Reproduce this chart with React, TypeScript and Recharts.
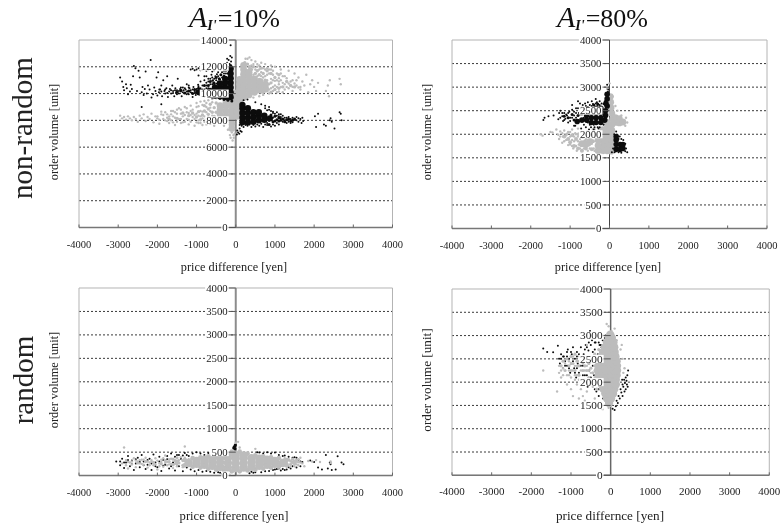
import React from "react";
import { ScatterChart, Scatter, XAxis, YAxis, CartesianGrid, ReferenceLine, ReferenceArea } from "recharts";

type P = [number, number];
const priceTicks = [-4000, -3000, -2000, -1000, 0, 1000, 2000, 3000, 4000];
const volumeTicksWide = [0, 2000, 4000, 6000, 8000, 10000, 12000, 14000];
const volumeTicks = [0, 500, 1000, 1500, 2000, 2500, 3000, 3500, 4000];

// A: non-random, 10%
const aBlackDots: P[] = [[-2950,11200],[-2900,10900],[-2870,10500],[-2850,10250],[-2800,10700],[-2780,10400],[-2750,9950],[-2700,10150],[-2680,10650],[-2650,10350],[-2620,11300],[-2600,12050],[-2560,11900],[-2520,10200],[-2480,11700],[-2450,11200],[-2400,10100],[-2380,10500],[-2350,9900],[-2320,10350],[-2300,11650],[-2270,10000],[-2240,10600],[-2200,10300],[-2170,12500],[-2150,9700],[-2110,9950],[-2080,10450],[-2050,10200],[-2020,11200],[-2000,9850],[-1980,11600],[-1960,10100],[-1930,10300],[-1900,10600],[-1880,9800],[-1850,11000],[-1820,10200],[-1800,10000],[-1770,10400],[-1750,11300],[-1730,9750],[-1700,10150],[-1680,10350],[-1650,10000],[-1620,10600],[-1600,10200],[-1570,9800],[-1540,10400],[-1520,10100],[-1500,10250],[-1480,11100],[-1450,10000],[-1420,10350],[-1400,10150],[-1380,9800],[-1350,10450],[-1330,10250],[-1300,10050],[-1280,10300],[-1250,10700],[-1220,10150],[-1200,9950],[-1180,10400],[-1150,10250],[-1120,10050],[-1100,9750],[-1080,10500],[-1050,10200],[-1020,9900],[-1000,10350],[-1150,11800],[-1100,11850],[-1050,11750],[-1000,11800],[-950,11900],[-900,11750],[-850,11800],[-800,11850],[-750,11700],[-700,11800],[-650,11900],[-600,11650],[-550,11750],[-500,11900],[-450,11600],[-400,11800],[-350,11950],[-950,11350],[-900,10900],[-850,10600],[-800,11300],[-750,10800],[-700,11100],[-650,10700],[-620,11400],[-580,11000],[-520,11300],[-480,11450],[-300,11700],[-250,12000],[-220,12300],[-180,12500],[-140,12800],[-100,12700],[-220,12600],[-130,13600],[-960,10650],[-1200,10600],[-2400,9000],[-1900,9200],[900,8700],[950,8650],[1000,8500],[1050,8600],[1100,8300],[1150,8150],[1200,8350],[1250,8000],[1300,8200],[1350,7900],[1400,8100],[1450,7850],[1500,8050],[1550,8250],[1600,7900],[1650,8100],[1680,7800],[1100,7700],[1000,7600],[900,7550],[800,7650],[700,7500],[600,7600],[500,7550],[400,7500],[300,7600],[200,7500],[100,7400],[120,7200],[60,7100],[90,7000],[40,7250],[30,6950],[150,7150],[1700,8200],[1720,7950],[2020,8300],[2050,7500],[2100,8500],[2300,7600],[2250,7700],[2400,8000],[2420,8150],[2450,7900],[2520,7400],[2650,8600],[2700,8000],[2680,8500],[850,9000],[750,9100],[650,9200],[500,9350],[300,9550],[200,9500],[800,7800],[1150,8450],[-1950,10300],[-1900,10150],[-1800,10300],[-1750,10050],[-1650,10250],[-1600,10050],[-1550,10250],[-1500,9950],[-1450,10200],[-1400,10450],[-1350,10100],[-1300,10400],[-1250,10150],[-1250,9950],[-1200,10450],[-1150,10100],[-1100,10300],[-1050,10050],[-1000,10200],[-950,10100],[-950,10550],[-900,10400],[-900,10100],[-850,10300],[-850,9900],[-800,10300],[-800,9800],[-800,11000],[-750,10400],[-750,10600],[-750,11300],[-700,10400],[-700,9750],[-700,10900],[-650,11100],[-600,10700],[-600,10950],[-600,11200],[-550,10650],[-550,11100],[-500,10750],[-500,11000],[-450,10900],[-450,11300],[-400,11050],[-350,11200],[-350,11600],[-300,11500],[-250,11500],[-250,11700],[-200,11500],[-160,12200],[-120,12400],[850,8800],[800,8750],[750,8900],[950,8550],[950,8200],[1050,8350],[1100,8450],[1150,8250],[1200,7900],[1250,8200],[1300,7800],[1350,8250],[1400,7800],[1450,8200],[1550,8000],[1600,8150],[1050,7800],[950,7700],[850,7950],[750,7700],[650,7750],[550,7700],[450,7650],[350,7700],[250,7650],[150,7600],[100,7650]];
const aBlackMid: P[] = [[-1500,10100],[-1400,10250],[-1300,10050],[-1200,10200],[-1100,10000],[-1050,10300],[-1000,10100],[-950,10400],[-900,9950],[-880,10250],[-800,10600],[-750,9900],[-700,10600],[-650,10900],[-600,9750],[-560,10800],[-500,11200],[-420,11100],[-380,11400],[-300,11300],[-200,11800],[-130,12100],[-400,9650],[-300,9550],[-200,9500],[-100,9450],[900,8400],[1000,8300],[1050,8050],[1100,8200],[1150,8000],[1200,8100],[1250,7900],[1300,8050],[1350,8100],[1400,7950],[1450,8000],[1500,8100],[950,7900],[1000,7950],[1100,7950],[850,7700]];
const aBlackCore: P[] = [[-130,9750],[-130,10100],[-130,10450],[-130,10800],[-130,11150],[-130,11500],[-130,11850],[-270,9750],[-270,10100],[-270,10450],[-270,10800],[-270,11100],[-400,9800],[-400,10100],[-400,10450],[-400,10750],[-530,9850],[-530,10150],[-530,10450],[-660,9900],[-660,10200],[-800,10050],[-930,10100],[170,7850],[170,8200],[170,8550],[170,8900],[170,9150],[310,7850],[310,8200],[310,8550],[310,8900],[450,7900],[450,8250],[450,8600],[590,8000],[590,8350],[590,8600],[730,8050],[730,8350],[870,8150]];
const aGreyDots: P[] = [[-2950,8350],[-2900,8150],[-2850,8250],[-2800,8050],[-2750,8300],[-2700,8150],[-2650,8000],[-2600,8250],[-2550,8100],[-2500,7900],[-2450,8350],[-2400,8150],[-2350,8450],[-2300,7950],[-2250,8250],[-2200,8100],[-2150,8500],[-2100,7850],[-2050,8300],[-2000,8150],[-1950,7750],[-1900,8650],[-1850,8400],[-1800,8000],[-1750,8200],[-1700,7800],[-1650,8700],[-1600,8300],[-1550,7650],[-1500,8500],[-1450,8900],[-1400,8100],[-1350,7850],[-1300,9000],[-1250,8600],[-1200,7700],[-1150,9100],[-1100,8250],[-1050,7600],[-1000,9300],[-950,7800],[-900,9400],[-850,7650],[-800,9450],[-750,7700],[-700,9500],[-650,7750],[-600,9600],[-550,7600],[-500,9650],[2680,10700],[2650,11100],[2400,11000],[2350,10600],[2300,10200],[2380,9800],[2100,10800],[2050,10200],[2000,10500],[1950,11000],[1900,10700],[1850,10100],[1800,11400],[1750,10600],[1700,10900],[1650,10300],[1600,11200],[1550,10600],[1500,11500],[1450,10200],[1400,10900],[1350,11700],[1300,10500],[1250,11300],[1200,10100],[1150,11800],[1100,10900],[1050,10100],[1000,12000],[950,11700],[900,12100],[850,10000],[800,11900],[750,12200],[700,9900],[650,12300],[600,9800],[550,12000],[500,12400],[450,9700],[400,12500],[350,12700],[300,12600],[250,12600],[-100,7100],[-60,6900],[-130,6700],[-80,6500],[-30,7000],[-200,7300],[-300,7600],[-150,6900],[-50,6700],[1650,10500],[1600,10450],[1550,11000],[1500,10750],[1450,11000],[1450,10500],[1350,10400],[1350,10750],[1300,11150],[1250,10700],[1250,10300],[1200,10800],[1200,11300],[1150,10500],[1150,11000],[1150,11500],[1100,10150],[1100,10700],[1100,11150],[1050,10500],[1050,11000],[1050,11500],[1000,10600],[1000,10950],[950,10200],[950,10500],[950,11000],[950,11400],[900,10400],[900,11100],[900,11800],[850,10300],[850,10700],[850,11500],[850,11800],[800,10500],[800,11000],[800,11400],[750,10150],[750,11300],[750,11800],[700,11200],[700,11900],[650,10100],[650,11300],[650,11600],[600,11100],[600,11800],[600,12100],[550,11300],[550,12200],[500,11800],[450,11400],[450,12200],[400,12100],[350,11900],[-2000,8300],[-1950,8050],[-1900,8450],[-1850,8100],[-1800,8600],[-1750,7950],[-1750,8450],[-1700,8300],[-1650,8000],[-1650,8450],[-1600,7850],[-1600,8700],[-1550,8200],[-1550,8600],[-1500,7900],[-1500,8800],[-1450,8100],[-1400,8500],[-1400,7800],[-1400,8800],[-1350,8300],[-1300,7900],[-1300,8400],[-1250,8100],[-1250,8900],[-1200,8050],[-1200,8550],[-1150,7900],[-1150,8400],[-1150,8700],[-1100,8800],[-1050,8100],[-1050,8400],[-1000,7850],[-1000,8500],[-1000,9000],[-950,8000],[-950,8350],[-950,9050],[-900,8300],[-900,8700],[-900,7800],[-850,8150],[-850,8650],[-850,9150],[-800,7900],[-800,8300],[-750,7850],[-750,8600],[-750,9000],[-750,9300],[-700,8050],[-700,8250],[-650,7900],[-650,8700],[-650,8950],[-600,7850],[-600,8350],[-600,9350]];
const aGreyMid: P[] = [[-1700,8100],[-1500,8150],[-1350,8550],[-1200,8350],[-1100,8550],[-1000,8250],[-950,8650],[-900,8050],[-850,8400],[-800,9100],[-800,8700],[-750,8100],[-700,8450],[-700,8850],[-650,9200],[-600,8100],[-600,8600],[-550,8950],[-550,8300],[-500,9300],[-500,7950],[-500,8600],[1500,10500],[1400,10600],[1300,10900],[1200,10500],[1100,10400],[1100,11400],[1000,10300],[1000,11200],[900,10100],[900,10800],[900,11500],[800,10200],[800,11700],[750,11000],[700,10100],[700,11500],[650,11900],[600,11400],[550,11700],[500,11500],[450,12000],[400,11800],[350,12000],[300,12200],[230,12300]];
const aGreyCore: P[] = [[-100,7400],[-100,7750],[-100,8100],[-100,8450],[-100,8800],[-100,9150],[-100,9450],[-250,8000],[-250,8350],[-250,8700],[-250,9050],[-250,9350],[-400,8100],[-400,8450],[-400,8800],[-400,9100],[30,8300],[30,8650],[30,9000],[30,9350],[30,9700],[30,10050],[100,9300],[100,9650],[100,10000],[100,10350],[100,10700],[100,11050],[200,9700],[200,10050],[200,10400],[200,10750],[200,11100],[200,11450],[200,11800],[200,12100],[340,9900],[340,10250],[340,10600],[340,10950],[340,11300],[340,11600],[480,10100],[480,10450],[480,10800],[480,11100],[620,10250],[620,10600],[620,10900],[760,10400],[760,10700]];

// B: non-random, 80%
const bBlackDots: P[] = [[-1680,2300],[-1650,2350],[-1550,2380],[-1420,2400],[-1300,2320],[-1280,2450],[-1250,2500],[-1200,2380],[-1180,2280],[-1150,2450],[-1120,2330],[-1080,2400],[-1050,2250],[-1020,2480],[-1000,2350],[-950,2620],[-900,2400],[-870,2180],[-850,2550],[-800,2700],[-780,2450],[-750,2650],[-720,2120],[-700,2560],[-680,2620],[-650,2500],[-620,2650],[-600,2150],[-580,2560],[-550,2680],[-520,2100],[-500,2620],[-470,2150],[-450,2700],[-420,2640],[-400,2100],[-380,2150],[-350,2750],[-320,2680],[-280,2120],[-250,2700],[-150,2640],[-120,2700],[-60,3050],[-40,2900],[-30,2950],[60,1620],[90,1700],[120,2000],[170,2060],[200,1980],[230,1900],[260,1950],[300,1900],[350,1880],[400,1800],[420,1700],[450,1620],[400,1640],[130,1620],[230,1620],[300,1610],[-1250,2350],[-1200,2450],[-1150,2300],[-1100,2420],[-1050,2450],[-1000,2280],[-950,2350],[-950,2520],[-900,2480],[-900,2180],[-850,2350],[-850,2450],[-800,2300],[-800,2550],[-750,2420],[-750,2550],[-700,2420],[-650,2200],[-650,2350],[-600,2500],[-600,2600],[-550,2250],[-550,2580],[-500,2200],[-500,2530],[-450,2600],[-400,2200],[-400,2550],[-350,2650],[-300,2150],[-300,2620],[-250,2150],[-250,2620],[-200,2650],[-150,2200]];
const bBlackMid: P[] = [[-1150,2380],[-1050,2350],[-950,2420],[-900,2300],[-800,2400],[-720,2500],[-640,2450],[-560,2480],[-480,2550],[-400,2620],[-300,2640]];
const bBlackCore: P[] = [[-60,2850],[-60,2750],[-90,2650],[-60,2600],[-100,2500],[-100,2400],[-120,2300],[-220,2550],[-220,2450],[-220,2350],[-220,2250],[-340,2550],[-340,2450],[-340,2350],[-340,2250],[-460,2450],[-460,2350],[-460,2250],[-580,2400],[-580,2300],[-700,2300],[-820,2270],[170,1680],[170,1780],[170,1880],[270,1680],[270,1780],[340,1700],[340,1780],[170,1950]];
const bGreyDots: P[] = [[-1750,2000],[-1700,1970],[-1500,2050],[-1450,2040],[-1350,2100],[-1300,1990],[-1280,1900],[-1250,2060],[-1200,1820],[-1180,1950],[-1150,2080],[-1100,1880],[-1080,2010],[-1050,1770],[-1000,1950],[-950,2100],[-920,1700],[-900,1850],[-870,2020],[-830,1650],[-800,2120],[-780,1780],[0,3080],[-60,2960],[80,2800],[150,2600],[200,2500],[300,2400],[420,2350],[450,2250],[400,2180],[-1250,1950],[-1200,2020],[-1150,1850],[-1100,1980],[-1050,2050],[-1000,1780],[-1000,2050],[-950,1750],[-950,1880],[-900,1950],[-850,1750],[-850,2000],[-800,1850],[-800,1950],[-750,1700],[-750,1900],[-700,1750],[-700,2050],[-650,1700],[-650,1800],[-650,2000],[-600,1900],[-550,1650],[-550,1850],[-500,1700],[-500,2000],[-450,1800],[-450,2050],[-400,1700],[-400,1950],[-380,1650]];
const bGreyMid: P[] = [[-1150,1950],[-1050,1900],[-1000,1830],[-950,1980],[-900,1750],[-850,1900],[-800,1700],[-780,2000],[-730,1800],[-700,1650],[-680,1950],[-620,1850],[-600,1700],[-560,2050],[-520,1780],[-480,1950],[-450,1680],[-420,1850],[-400,2100]];
const bGreyCore: P[] = [[20,2800],[30,2680],[40,2560],[60,2440],[80,2320],[150,2350],[150,2250],[250,2330],[250,2240],[340,2260],[60,2200],[60,2080],[40,1950],[40,1830],[40,1700],[40,1640],[-60,2250],[-60,2130],[-60,2010],[-60,1890],[-60,1770],[-60,1650],[-170,2100],[-170,1980],[-170,1860],[-170,1740],[-170,1650],[-290,2000],[-290,1880],[-290,1760],[-290,1650],[90,1950],[-700,1800],[-600,1780],[-500,1850]];

// C: random, 10%
const cBlackDots: P[] = [[-3050,300],[-2950,220],[-2900,360],[-2850,160],[-2800,280],[-2750,420],[-2700,200],[-2650,320],[-2600,120],[-2550,260],[-2500,380],[-2450,180],[-2400,440],[-2350,300],[-2300,140],[-2250,230],[-2200,360],[-2150,120],[-2100,450],[-2050,280],[-2000,180],[-1950,400],[-1900,100],[-1850,330],[-1800,230],[-1750,420],[-1700,150],[-1650,470],[-1600,280],[-1550,110],[-1500,440],[-1450,200],[-1400,360],[-1350,90],[-1300,480],[-1250,170],[-1200,420],[-1150,130],[-1100,470],[-1050,90],[-1000,500],[-950,120],[-900,470],[-850,80],[-800,440],[-750,100],[-700,480],[-650,80],[-600,510],[-550,60],[-500,520],[-450,70],[-400,60],[-350,40],[350,50],[400,80],[450,60],[500,70],[550,500],[600,490],[650,70],[700,470],[750,90],[800,500],[850,100],[900,470],[950,120],[1000,490],[1050,140],[1100,440],[1150,110],[1200,420],[1250,120],[1300,130],[1350,400],[1400,150],[1450,200],[1500,390],[1550,170],[1600,340],[1650,200],[1700,290],[1900,320],[2000,290],[2100,170],[2200,130],[2300,440],[2350,150],[2400,280],[2420,240],[2450,120],[2550,130],[2600,410],[2700,280],[2750,240],[-2950,300],[-2850,280],[-2750,330],[-2650,240],[-2550,350],[-2450,290],[-2350,220],[-2250,330],[-2150,260],[-2050,200],[-1950,300],[-1850,210],[-1750,350],[-1650,200],[-1550,400],[-1450,440],[-1350,430],[-1250,440],[1250,430],[1350,180],[1450,380],[1550,380],[1650,300],[1200,140],[1100,150],[1000,130]];
const cBlackBlob: P[] = [[-30,620],[-10,650],[-50,590],[-20,570]];
const cGreyDots: P[] = [[-2900,260],[-2850,600],[-2800,330],[-2750,150],[-2700,280],[-2650,240],[-2600,370],[-2550,180],[-2500,300],[-2450,260],[-2400,340],[-2350,230],[-2300,380],[-2250,170],[-2200,280],[-2150,330],[-2100,220],[-2050,370],[-2000,130],[-1950,260],[-1900,340],[-1850,190],[-1800,430],[-1750,290],[-1700,240],[-1650,360],[-1600,160],[-1550,330],[-1500,230],[1550,300],[1600,220],[1650,380],[1700,260],[1750,200],[1850,310],[1950,300],[2050,330],[2150,290],[2420,300],[2430,270],[-300,30],[-150,20],[0,700],[60,720],[100,600],[-1300,620],[-350,560],[500,570],[-2800,220],[-2750,290],[-2650,300],[-2550,320],[-2450,330],[-2400,250],[-2350,340],[-2250,300],[-2200,220],[-2150,300],[-2050,240],[-2000,320],[-1950,200],[-1900,290],[-1850,370],[-1800,270],[-1750,220],[-1700,350],[-1650,250],[-1550,250],[-1550,310],[-1500,200],[-1450,330],[-1400,390],[-1350,180],[-1300,240],[-1300,380],[-1250,300],[-1200,350],[-1150,270],[1500,300],[1500,200],[1550,240],[1600,350],[1650,280],[1300,200],[1250,370],[1300,330],[1400,200]];
const cGreyMid: P[] = [[-2500,270],[-2300,300],[-2100,280],[-1900,250],[-1800,320],[-1700,300],[-1600,230],[-1600,350],[-1500,290],[-1500,380],[-1450,270],[-1350,320],[-1350,220],[1300,260],[1350,340],[1400,240],[1400,310],[1450,280],[1450,350],[1500,250],[1550,330],[1600,290]];
const cGreyEdge: P[] = [[-1500,290],[-1300,220],[-1300,330],[-1100,190],[-1100,370],[-900,170],[-900,390],[-700,150],[-700,410],[-500,130],[-500,430],[-300,110],[-300,470],[-100,90],[-100,510],[100,90],[100,510],[300,110],[300,470],[500,130],[500,430],[700,150],[700,410],[900,170],[900,390],[1100,190],[1100,370],[1300,220],[1300,330],[1500,290]];
const cGreyCore: P[] = [[0,160],[0,260],[0,360],[0,440],[200,170],[200,270],[200,370],[200,430],[-200,170],[-200,270],[-200,370],[-200,430],[400,190],[400,280],[400,370],[-400,190],[-400,280],[-400,370],[600,210],[600,290],[600,360],[-600,210],[-600,290],[-600,360],[800,230],[800,290],[800,340],[-800,230],[-800,290],[-800,340],[1000,250],[1000,310],[-1000,250],[-1000,310],[1200,270],[-1200,270]];

// D: random, 80%
const dBlackDots: P[] = [[-1700,2720],[-1600,2650],[-1450,2640],[-1330,2780],[-1300,2500],[-1280,2400],[-1250,2600],[-1200,2300],[-1180,2550],[-1150,2450],[-1100,2350],[-1100,2650],[-1080,2700],[-1050,2500],[-1020,2200],[-1000,2400],[-980,2600],[-950,2750],[-920,2300],[-900,2500],[-870,2100],[-850,2650],[-830,2400],[-800,2200],[-780,2550],[-750,2750],[-720,2000],[-700,2350],[-680,2600],[-650,2150],[-630,2800],[-600,2450],[-580,1900],[-560,2680],[-540,2250],[-520,3100],[-500,2550],[-480,1950],[-470,2900],[-450,2350],[-430,3050],[-420,2150],[-400,2700],[-380,2850],[-360,1800],[-350,2000],[-340,3000],[-320,2600],[-300,1700],[-280,2800],[-260,2950],[-250,1900],[-230,2750],[-200,2900],[-190,1650],[-170,2850],[-150,2950],[-130,3000],[100,1400],[130,1480],[150,1600],[180,1550],[200,1700],[230,1650],[250,1850],[270,1780],[300,1950],[320,1900],[340,2050],[360,1980],[380,2100],[400,2030],[420,2150],[430,1900],[440,2250],[380,1850],[350,1800],[300,1700],[410,1950],[290,2050],[50,1430],[-1250,2500],[-1200,2550],[-1150,2350],[-1100,2550],[-1050,2300],[-1000,2650],[-950,2450],[-900,2200],[-850,2300],[-850,2550],[-800,2600],[-750,2350],[-700,2150],[-650,2700],[-600,2150],[-600,2750],[-550,2500],[-550,2850],[-500,2100],[-500,2800],[-450,2000],[-450,2650],[-400,2850],[-400,1850],[-350,2950],[-300,2850],[-300,1850],[-250,2800],[-200,1750],[-200,3000]];
const dGreyDots: P[] = [[-1700,2250],[-1350,1800],[-1300,2200],[-1250,2100],[-1200,2300],[-1100,1950],[-1050,2150],[-1000,1850],[-950,1700],[-900,2050],[-850,1950],[-800,1650],[-750,1850],[-700,1700],[-650,1600],[-600,1800],[-550,1550],[-500,1500],[-400,1650],[-300,1500],[-200,1420],[-50,1450],[-100,3250],[-50,3200],[100,3150],[20,3100],[150,2900],[250,2700],[300,2500],[350,2300],[280,2800],[320,2200],[-600,2800],[-300,3050],[-1300,2350],[-1250,2250],[-1200,2150],[-1150,2400],[-1100,2150],[-1050,2450],[-1050,2250],[-1000,2100],[-1000,2400],[-950,2250],[-950,2550],[-900,2150],[-900,2350],[-850,2150],[-850,2350],[-800,2450],[-800,2050],[-750,2250],[-750,1950],[-700,2050],[-700,2400],[-650,2250],[-650,2450],[-600,2050],[-600,1950],[-600,2350],[-550,2250],[-550,1950],[-500,2200],[-500,2450],[-450,2050],[-450,1900],[-400,2100],[-400,2250],[-350,2300],[-350,1950]];
const dGreyMid: P[] = [[-1250,2350],[-1200,2450],[-1150,2250],[-1100,2500],[-1050,2350],[-1000,2250],[-1000,2550],[-950,2400],[-900,2250],[-900,2600],[-850,2450],[-800,2350],[-800,2150],[-750,2450],[-700,2250],[-700,2500],[-650,2350],[-650,2050],[-600,2250],[-600,2550],[-550,2400],[-550,2100],[-500,2300],[-500,2000],[-450,2500],[-450,2200],[-400,2350],[-400,1950],[-400,2600],[-350,2150],[-350,2450],[-350,1850],[-300,2700],[-280,1950]];
const dGreyCore: P[] = [[-40,1550],[-90,1650],[10,1650],[-130,1750],[-30,1750],[60,1750],[-180,1850],[-80,1850],[20,1850],[90,1850],[-220,1950],[-120,1950],[-20,1950],[80,1950],[130,1950],[-260,2050],[-160,2050],[-60,2050],[40,2050],[130,2050],[-300,2150],[-200,2150],[-100,2150],[0,2150],[100,2150],[150,2150],[-320,2250],[-220,2250],[-120,2250],[-20,2250],[80,2250],[160,2250],[-300,2350],[-200,2350],[-100,2350],[0,2350],[100,2350],[160,2350],[-280,2450],[-180,2450],[-80,2450],[20,2450],[120,2450],[150,2450],[-240,2550],[-140,2550],[-40,2550],[60,2550],[120,2550],[-190,2650],[-90,2650],[10,2650],[100,2650],[-140,2750],[-40,2750],[60,2750],[90,2750],[-90,2850],[10,2850],[70,2850],[-50,2950],[30,2950],[-10,3020]];

const toPts = (arr: P[]) => arr.map(([x, y]) => ({ x, y }));
const BLACK = "#0c0c0c";
const GREY = "#bcbcbc";
const FONT = "'Liberation Serif', serif";

const dot = (r: number, fill: string) => (p: any) => <circle cx={p.cx} cy={p.cy} r={r} fill={fill} />;

function Panel(props: {
  left: number; top: number; right: number; bottom: number; yMax: number; yTicks: number[];
  layers: [P[], number, string][]; zeroW: number; zeroC: string; xFont: number; yFont: number;
}) {
  const { left, top, right, bottom, yMax, yTicks, layers, zeroW, zeroC, xFont, yFont } = props;
  const boxL = left - 40, boxT = top - 10;
  const W = right - boxL + 30, H = bottom - boxT + 60;
  const half = (right - left) / 2;
  const yTick = (p: any) => {
    const zx = left - boxL + half;
    const txt = String(p.payload.value);
    const w = txt.length * yFont * 0.5;
    return (
      <g>
        <rect x={zx - 8 - w - 1} y={p.y - 4} width={w + 2} height={8} fill="#fff" />
        <line x1={zx - 7} x2={zx} y1={p.y} y2={p.y} stroke="#555" strokeWidth={1} />
        <text x={zx - 8} y={p.y + yFont * 0.33} textAnchor="end" fontFamily={FONT} fontSize={yFont} fill="#222">{txt}</text>
      </g>
    );
  };
  const xTick = (p: any) => (
    <g>
      <line x1={p.x} x2={p.x} y1={p.y - 3} y2={p.y} stroke="#666" strokeWidth={1} />
      <text x={p.x} y={p.y + 20} textAnchor="middle" fontFamily={FONT} fontSize={xFont} fill="#222">{p.payload.value}</text>
    </g>
  );
  return (
    <div style={{ position: "absolute", left: boxL, top: boxT }}>
      <ScatterChart width={W} height={H} margin={{ left: left - boxL - 1, top: top - boxT, right: W - (right - boxL), bottom: H - (bottom - boxT) - 30 }}>
        <CartesianGrid vertical={false} horizontalValues={yTicks.slice(1, -1)} stroke="#222" strokeDasharray="2 2" strokeWidth={0.9} />
        <XAxis type="number" dataKey="x" domain={[-4000, 4000]} ticks={priceTicks} height={30} interval={0} tickSize={0} tickMargin={0} axisLine={{ stroke: "#777", strokeWidth: 1.5 }} tickLine={false} tick={xTick} />
        <YAxis type="number" dataKey="y" domain={[0, yMax]} ticks={yTicks} width={1} interval={0} tickSize={0} tickMargin={0} axisLine={false} tickLine={false} tick={yTick} />
        <ReferenceArea x1={-4000} x2={4000} y1={0} y2={yMax} fill="none" stroke="#b4b4b4" strokeWidth={1} />
        <ReferenceLine x={0} stroke={zeroC} strokeWidth={zeroW} />
        {layers.map(([arr, r, c], i) => (
          <Scatter key={i} data={toPts(arr)} isAnimationActive={false} shape={dot(r, c)} />
        ))}
      </ScatterChart>
    </div>
  );
}

const Title = ({ x, y, pct }: { x: number; y: number; pct: string }) => (
  <text x={x} y={y} fontFamily={FONT} fill="#111">
    <tspan fontStyle="italic" fontSize={30}>A</tspan>
    <tspan fontStyle="italic" fontWeight="bold" fontSize={14} dy={3}>I'</tspan>
    <tspan fontSize={26} dy={-3} dx={1}>={pct}</tspan>
  </text>
);
const VText = ({ x, y, size, children }: any) => (
  <text transform={`translate(${x},${y}) rotate(-90)`} textAnchor="middle" fontFamily={FONT} fontSize={size} fill="#222">{children}</text>
);

export default function App() {
  return (
    <div style={{ position: "absolute", left: 0, top: 0, width: 781, height: 527, background: "#fff", overflow: "hidden", filter: "blur(0.35px)" }}>
      <Panel left={78.5} top={39.5} right={392} bottom={227} yMax={14000} yTicks={volumeTicksWide} zeroW={2} zeroC="#8c8c8c" xFont={10.5} yFont={10.8}
        layers={[[aGreyDots,1.2,GREY],[aGreyMid,1.7,GREY],[aGreyCore,3.4,GREY],[aBlackDots,1,BLACK],[aBlackMid,1.5,BLACK],[aBlackCore,3.2,BLACK]]} />
      <Panel left={451.7} top={39.5} right={766.7} bottom={228} yMax={4000} yTicks={volumeTicks} zeroW={1} zeroC="#444" xFont={10.5} yFont={10.8}
        layers={[[bGreyDots,1.2,GREY],[bGreyMid,2,GREY],[bGreyCore,3.4,GREY],[bBlackDots,1,BLACK],[bBlackMid,1.5,BLACK],[bBlackCore,2.8,BLACK]]} />
      <Panel left={78.5} top={287.7} right={392} bottom={475.3} yMax={4000} yTicks={volumeTicks} zeroW={2} zeroC="#8c8c8c" xFont={10.5} yFont={10.8}
        layers={[[cBlackDots,1,BLACK],[cBlackBlob,1.6,BLACK],[cGreyDots,1.2,GREY],[cGreyMid,1.6,GREY],[cGreyEdge,2.4,GREY],[cGreyCore,4.2,GREY]]} />
      <Panel left={452} top={288.7} right={769.3} bottom={475} yMax={4000} yTicks={volumeTicks} zeroW={1.5} zeroC="#666" xFont={11} yFont={11.3}
        layers={[[dBlackDots,1,BLACK],[dGreyDots,1.2,GREY],[dGreyMid,1.6,GREY],[dGreyCore,4.2,GREY]]} />
      <svg width={781} height={527} style={{ position: "absolute", left: 0, top: 0, pointerEvents: "none" }}>
        <Title x={189} y={27} pct="10%" />
        <Title x={557} y={27} pct="80%" />
        <VText x={32} y={128} size={29}>non-random</VText>
        <VText x={33} y={380} size={29}>random</VText>
        <VText x={58} y={132} size={12.3}>order volume [unit]</VText>
        <VText x={431} y={132} size={12.3}>order volume [unit]</VText>
        <VText x={58} y={380} size={12.3}>order volume [unit]</VText>
        <VText x={431} y={380} size={13.2}>order volume [unit]</VText>
        <text x={234} y={271} textAnchor="middle" fontFamily={FONT} fontSize={12.3} fill="#222">price difference [yen]</text>
        <text x={608} y={271} textAnchor="middle" fontFamily={FONT} fontSize={12.3} fill="#222">price difference [yen]</text>
        <text x={234} y={520} textAnchor="middle" fontFamily={FONT} fontSize={12.6} fill="#222">price difference [yen]</text>
        <text x={610} y={520} textAnchor="middle" fontFamily={FONT} fontSize={13.2} fill="#222">price differnce [yen]</text>
      </svg>
    </div>
  );
}
